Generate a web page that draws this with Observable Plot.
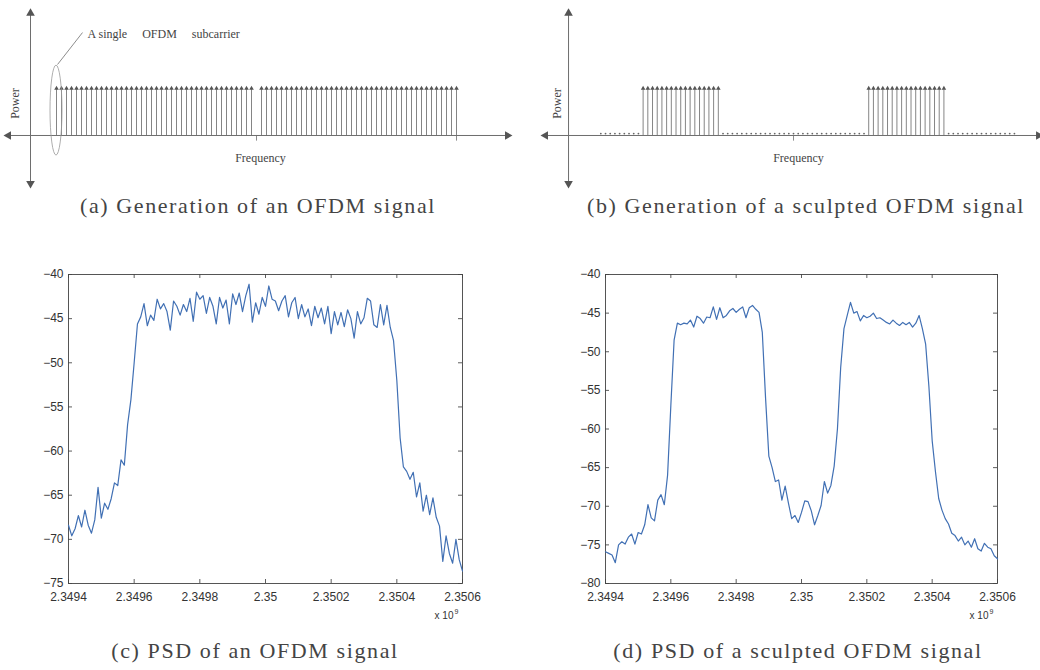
<!DOCTYPE html>
<html>
<head>
<meta charset="utf-8">
<script src="https://cdn.jsdelivr.net/npm/d3@7"></script>
<script src="https://cdn.jsdelivr.net/npm/@observablehq/plot@0.6"></script>
<style>
  html, body { margin: 0; padding: 0; background: #fff; }
  #root { position: relative; width: 1040px; height: 670px; overflow: hidden; background: #fff; }
  .panel { position: absolute; }
  .cap { position: absolute; transform: translateX(-50%); white-space: nowrap;
         font-family: "Liberation Serif", "Times New Roman", serif; font-size: 22px;
         letter-spacing: 1.6px; color: #444; line-height: 25px; }
</style>
</head>
<body>
<div id="root"></div>
<script>
// ---------- Data ----------
// (a) subcarrier indices of a plain OFDM signal (all carrying power 1)
const carriersA = [-40,-39,-38,-37,-36,-35,-34,-33,-32,-31,-30,-29,-28,-27,-26,-25,-24,-23,-22,-21,
  -20,-19,-18,-17,-16,-15,-14,-13,-12,-11,-10,-9,-8,-7,-6,-5,-4,-3,-2,-1,
  1,2,3,4,5,6,7,8,9,10,11,12,13,14,15,16,17,18,19,20,
  21,22,23,24,25,26,27,28,29,30,31,32,33,34,35,36,37,38,39,40];
const powerOn = 1;

// (b) sculpted OFDM: active and nulled subcarriers
const activeB = [-32,-31,-30,-29,-28,-27,-26,-25,-24,-23,-22,-21,-20,-19,-18,-17,-16,
  16,17,18,19,20,21,22,23,24,25,26,27,28,29,30,31,32];
const nulledB = [-41,-40,-39,-38,-37,-36,-35,-34,-33,
  -15,-14,-13,-12,-11,-10,-9,-8,-7,-6,-5,-4,-3,-2,-1,0,1,2,3,4,5,6,7,8,9,10,11,12,13,14,15,
  33,34,35,36,37,38,39,40,41,42,43,44,45,46,47];

// schematic axes extents (subcarrier units / power units)
const schemA = {xMin: -49.6, xMax: 50.2, yAxisAt: -45.2, yMin: -1.02, yMax: 2.6};
const schemB = {xMin: -52.77, xMax: 52.13, yAxisAt: -47.87, yMin: -1.02, yMax: 2.6};

// (c),(d) PSD: frequency offsets (kHz from 2.3494 GHz) and power (dB)
const freqKHz = [0,10,20,30,40,50,60,70,80,90,100,110,120,130,140,150,160,170,180,190,
  200,210,220,230,240,250,260,270,280,290,300,310,320,330,340,350,360,370,380,390,
  400,410,420,430,440,450,460,470,480,490,500,510,520,530,540,550,560,570,580,590,
  600,610,620,630,640,650,660,670,680,690,700,710,720,730,740,750,760,770,780,790,
  800,810,820,830,840,850,860,870,880,890,900,910,920,930,940,950,960,970,980,990,
  1000,1010,1020,1030,1040,1050,1060,1070,1080,1090,1100,1110,1120,1130,1140,1150,1160,1170,1180,1190,1200];
const psdOFDM = [-68.4,-69.6,-68.8,-67.3,-68.6,-66.7,-68.4,-69.3,-67.8,-64.1,
  -67.6,-65.9,-66.6,-65.4,-63.6,-63.9,-61.0,-61.6,-57.0,-54.2,
  -50.0,-45.6,-44.8,-43.3,-45.8,-44.6,-45.2,-42.8,-43.9,-43.3,
  -44.2,-46.3,-43.0,-43.6,-44.6,-43.4,-44.2,-42.7,-45.3,-42.0,
  -42.8,-42.4,-44.4,-42.6,-43.6,-45.6,-42.6,-43.8,-42.9,-45.6,
  -42.2,-43.4,-42.1,-44.2,-42.4,-41.1,-45.4,-43.2,-44.5,-42.6,
  -43.6,-41.3,-42.8,-43.0,-44.1,-43.0,-42.4,-44.8,-43.2,-42.6,
  -45.0,-43.4,-44.8,-43.9,-45.8,-43.6,-44.9,-43.8,-45.6,-43.6,
  -46.7,-44.2,-45.7,-44.3,-45.9,-44.0,-45.0,-47.2,-44.2,-45.6,
  -44.9,-42.7,-43.0,-45.7,-46.0,-43.4,-45.7,-43.5,-46.0,-47.5,
  -52.0,-58.5,-61.8,-62.3,-63.2,-62.4,-65.2,-63.6,-66.8,-65.0,
  -67.2,-65.3,-67.5,-68.5,-72.5,-69.6,-71.6,-72.7,-70.0,-72.3,-73.6];
const psdSculpted = [-75.9,-76.1,-76.3,-77.3,-75.0,-74.6,-74.9,-74.0,-73.6,-74.9,
  -73.4,-73.6,-72.4,-69.8,-71.5,-71.9,-69.2,-68.5,-69.8,-66.0,
  -57.0,-48.5,-46.3,-46.5,-46.3,-46.4,-45.9,-46.8,-45.4,-45.7,
  -46.3,-45.5,-45.6,-44.2,-45.8,-44.3,-45.6,-45.3,-44.7,-44.4,
  -44.9,-44.5,-44.2,-45.6,-44.3,-44.0,-44.5,-44.9,-47.5,-56.0,
  -63.5,-65.0,-66.8,-66.6,-69.2,-67.4,-69.6,-71.6,-71.2,-72.1,
  -70.8,-69.3,-69.4,-70.6,-72.4,-71.2,-69.9,-66.8,-68.3,-67.3,
  -64.8,-60.0,-52.0,-47.0,-45.3,-43.6,-45.0,-44.8,-46.0,-45.3,
  -45.6,-45.4,-45.0,-45.7,-45.6,-45.9,-46.2,-46.4,-45.9,-46.3,
  -46.6,-46.2,-46.5,-46.2,-46.8,-46.3,-45.3,-47.0,-49.0,-54.5,
  -61.5,-65.5,-69.0,-70.5,-71.6,-72.3,-73.5,-73.8,-74.5,-74.0,
  -75.0,-74.5,-75.3,-74.2,-75.5,-75.8,-74.8,-75.3,-75.5,-76.4,-76.8];
const f0 = 2349400000;
const xTicks = [2349400000, 2349600000, 2349800000, 2350000000, 2350200000, 2350400000, 2350600000];
const xTickLabels = ["2.3494", "2.3496", "2.3498", "2.35", "2.3502", "2.3504", "2.3506"];
const yTicksC = [-75, -70, -65, -60, -55, -50, -45, -40];
const yTicksD = [-80, -75, -70, -65, -60, -55, -50, -45, -40];

const captions = [
  {text: "(a) Generation of an OFDM signal", x: 258, y: 193},
  {text: "(b) Generation of a sculpted OFDM signal", x: 806, y: 193},
  {text: "(c) PSD of an OFDM signal", x: 255, y: 638},
  {text: "(d) PSD of a sculpted OFDM signal", x: 798, y: 638}
];

// ---------- Helpers ----------
const root = document.getElementById("root");
function place(node, left, top) {
  node.classList.add("panel");
  node.style.left = left + "px";
  node.style.top = top + "px";
  root.appendChild(node);
}
const gray = "#6e6e6e";
const serif = "Liberation Serif, Times New Roman, serif";

function axisMarks(s) {
  const lines = [
    {x1: s.xMin, y1: 0, x2: s.xMax, y2: 0},
    {x1: s.yAxisAt, y1: s.yMin, x2: s.yAxisAt, y2: s.yMax}
  ];
  const heads = [
    {x: s.xMin, y: 0, r: -90}, {x: s.xMax, y: 0, r: 90},
    {x: s.yAxisAt, y: s.yMax, r: 0}, {x: s.yAxisAt, y: s.yMin, r: 180}
  ];
  return [
    Plot.link(lines, {x1: "x1", y1: "y1", x2: "x2", y2: "y2", stroke: gray, strokeWidth: 1}),
    Plot.dot(heads, {x: "x", y: "y", rotate: "r", symbol: "triangle", r: 3.2, fill: "#555", stroke: "none"})
  ];
}

// ---------- Panel (a) ----------
const plotA = Plot.plot({
  width: 520, height: 200, margin: 0,
  x: {domain: [-51.2, 52.8], axis: null},
  y: {domain: [-1.383, 2.872], axis: null},
  style: {background: "transparent"},
  marks: [
    ...axisMarks(schemA),
    Plot.ruleX([0, 40], {x: d => d, y1: 0, y2: -0.12, stroke: gray, strokeWidth: 0.8}),
    Plot.ruleX(carriersA, {x: d => d, y1: 0, y2: powerOn, stroke: "#777", strokeWidth: 0.9}),
    Plot.dot(carriersA, {x: d => d, y: powerOn, symbol: "triangle", r: 1.7, fill: "#555", stroke: "none"}),
    (index, scales) => {
      const e = d3.create("svg:ellipse")
        .attr("cx", scales.x(carriersA[0]))
        .attr("cy", scales.y(0.53))
        .attr("rx", 6).attr("ry", 45)
        .attr("fill", "none").attr("stroke", "#999").attr("stroke-width", 0.8);
      return e.node();
    },
    Plot.link([{x1: -39.8, y1: 1.51, x2: -34.8, y2: 2.19}], {x1: "x1", y1: "y1", x2: "x2", y2: "y2", stroke: gray, strokeWidth: 0.8}),
    Plot.text(["A single     OFDM     subcarrier"], {x: -33.8, y: 2.15, text: d => d, textAnchor: "start",
      fontFamily: serif, fontSize: 12, fill: "#444", style: "white-space:pre"}),
    Plot.text(["Power"], {x: -48.2, y: 0.68, text: d => d, rotate: -90, fontFamily: serif, fontSize: 12, fill: "#444"}),
    Plot.text(["Frequency"], {x: 0.8, y: -0.49, text: d => d, fontFamily: serif, fontSize: 12, fill: "#444"})
  ]
});
place(plotA, 0, 0);

// ---------- Panel (b) ----------
const plotB = Plot.plot({
  width: 520, height: 200, margin: 0,
  x: {domain: [-58.09, 52.55], axis: null},
  y: {domain: [-1.383, 2.872], axis: null},
  style: {background: "transparent"},
  marks: [
    ...axisMarks(schemB),
    Plot.ruleX([0], {x: d => d, y1: 0, y2: -0.12, stroke: gray, strokeWidth: 0.8}),
    Plot.dot(nulledB, {x: d => d, y: 0.04, r: 0.9, fill: "#666", stroke: "none"}),
    Plot.ruleX(activeB, {x: d => d, y1: 0, y2: powerOn, stroke: "#777", strokeWidth: 0.9}),
    Plot.dot(activeB, {x: d => d, y: powerOn, symbol: "triangle", r: 1.7, fill: "#555", stroke: "none"}),
    Plot.text(["Power"], {x: -50.2, y: 0.68, text: d => d, rotate: -90, fontFamily: serif, fontSize: 12, fill: "#444"}),
    Plot.text(["Frequency"], {x: 1.06, y: -0.49, text: d => d, fontFamily: serif, fontSize: 12, fill: "#444"})
  ]
});
place(plotB, 520, 0);

// ---------- PSD panels ----------
function psdPlot(values, yDomain, yTicks, mLeft, mRight) {
  const W = 520, H = 380, mTop = 24, mBottom = 47;
  const fw = W - mLeft - mRight, fh = H - mTop - mBottom;
  const data = freqKHz.map((k, i) => ({f: f0 + k * 1000, p: values[i]}));
  const tk = "#333";
  return Plot.plot({
    width: W, height: H, marginLeft: mLeft, marginRight: mRight, marginTop: mTop, marginBottom: mBottom,
    x: {domain: [xTicks[0], xTicks[xTicks.length - 1]], ticks: xTicks, tickSize: 0, tickPadding: 9,
        tickFormat: d => xTickLabels[xTicks.indexOf(d)], label: null},
    y: {domain: yDomain, ticks: yTicks, tickSize: 0, tickPadding: 5,
        tickFormat: d => String(d).replace("-", "\u2212"), label: null},
    style: {fontFamily: "Liberation Sans, Arial, sans-serif", fontSize: "12px", color: "#333", background: "transparent"},
    marks: [
      Plot.ruleX(xTicks, {x: d => d, insetTop: fh - 4, stroke: tk, strokeWidth: 0.8}),
      Plot.ruleX(xTicks, {x: d => d, insetBottom: fh - 4, stroke: tk, strokeWidth: 0.8}),
      Plot.ruleY(yTicks, {y: d => d, insetRight: fw - 4, stroke: tk, strokeWidth: 0.8}),
      Plot.ruleY(yTicks, {y: d => d, insetLeft: fw - 4, stroke: tk, strokeWidth: 0.8}),
      Plot.frame({stroke: "#444", strokeWidth: 0.9}),
      Plot.line(data, {x: "f", y: "p", stroke: "#4170b4", strokeWidth: 1.2}),
      Plot.text(["x 10"], {text: d => d, frameAnchor: "bottom-right", dx: -9, dy: 35, textAnchor: "end", fontSize: 10, fill: "#333"}),
      Plot.text(["9"], {text: d => d, frameAnchor: "bottom-right", dx: -8, dy: 30, textAnchor: "start", fontSize: 7, fill: "#333"})
    ]
  });
}
place(psdPlot(psdOFDM, [-75, -40], yTicksC, 68, 58), 0, 250);
place(psdPlot(psdSculpted, [-80, -40], yTicksD, 85, 43), 520, 250);

// ---------- Captions ----------
for (const c of captions) {
  const d = document.createElement("div");
  d.className = "cap";
  d.textContent = c.text;
  d.style.left = c.x + "px";
  d.style.top = c.y + "px";
  root.appendChild(d);
}
</script>
</body>
</html>
